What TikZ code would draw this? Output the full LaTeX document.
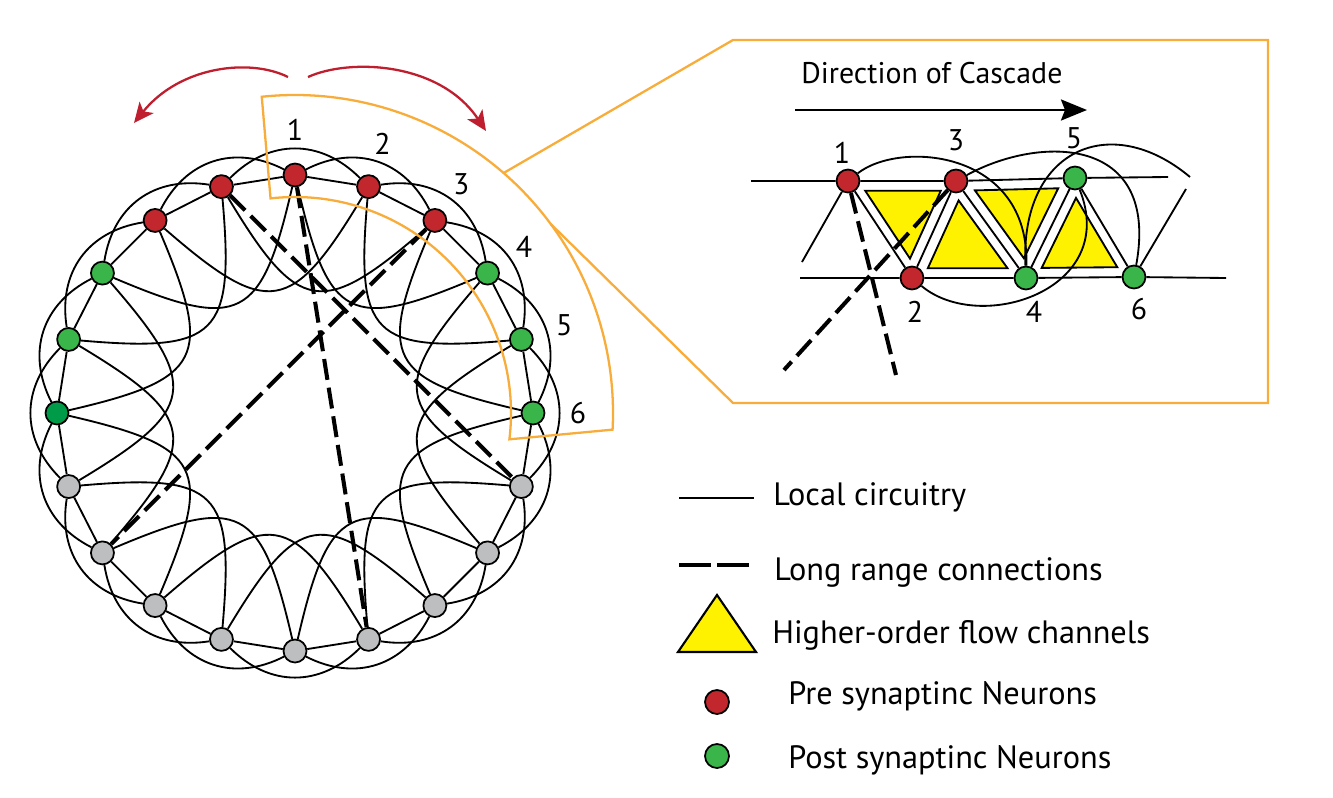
\documentclass[tikz,border=0pt]{standalone}
\usepackage{fontspec}
\setmainfont{PT Sans}
\usetikzlibrary{calc,            % calculs de coordonnées
           arrows.meta,
           positioning}
\pgfdeclarelayer{background}
\pgfsetlayers{background,main}
\definecolor{prered}{RGB}{193,39,45}
\definecolor{postgreen}{RGB}{57,181,74}
\definecolor{deepgreen}{RGB}{0,155,72}
\definecolor{idlegray}{RGB}{188,190,192}
\definecolor{zoomorange}{RGB}{248,172,58}
\definecolor{flowyellow}{RGB}{255,242,0}
\definecolor{arrowred}{RGB}{190,30,45}

\begin{document}
\begin{tikzpicture}[x=0.02cm,y=-0.02cm,
  neuron/.style={circle,draw,line width=1pt,minimum size=0.46cm,inner sep=0pt},
  local/.style={line width=1.05pt},
  arcout/.style={relative,out=45,in=135,looseness=1.1},
  arcin/.style={relative,out=-50,in=-130,looseness=1.75},
  longrange/.style={line width=2.3pt,dash pattern=on 12pt off 4.5pt},
  lbl/.style={font=\fontsize{17}{20}\selectfont,inner sep=0pt},
  key/.style={font=\fontsize{18.4}{22}\selectfont,inner sep=0pt,anchor=base west},
  zoomline/.style={draw=zoomorange,line width=1.3pt},
  swing/.style={draw=arrowred,line width=1.3pt,-{Stealth[length=0.4cm,width=0.36cm,inset=0.1cm]}}]
\useasboundingbox (0,0) rectangle (1333,798);

% anneau de neurones
\coordinate (c) at (295,413);
\foreach \k/\col in {0/prered,1/prered,2/prered,3/postgreen,4/postgreen,5/postgreen,
                     6/idlegray,7/idlegray,8/idlegray,9/idlegray,10/idlegray,11/idlegray,
                     12/idlegray,13/idlegray,14/idlegray,15/deepgreen,16/postgreen,
                     17/postgreen,18/prered,19/prered}
  \node[neuron,fill=\col] (n\k) at ($(c)+(18*\k-90:238)$) {};
\begin{pgfonlayer}{background}
\foreach \k in {0,...,19}{
  \pgfmathtruncatemacro\j{mod(\k+1,20)}
  \pgfmathtruncatemacro\m{mod(\k+2,20)}
  \pgfmathtruncatemacro\p{mod(\k+3,20)}
  \draw[local] (n\k) -- (n\j);
  \draw[local] (n\k) to[arcout] (n\m);
  \draw[local] (n\k) to[arcin] (n\p);
}
\end{pgfonlayer}
\draw[longrange] (n0) -- (n9);
\draw[longrange] (n19) -- (n6);
\draw[longrange] (n2) -- (n13);
\foreach \k in {0,...,5}{
  \pgfmathtruncatemacro\num{\k+1}
  \node[lbl] (r\num) at ($(c)+(18*\k-90:283)$) {\num};
}

% fleches rouges
\coordinate (sl) at (288,77);
\coordinate (el) at (134,123);
\coordinate (sr) at (308,77);
\coordinate (er) at (486,131);
\draw[swing] (sl) .. controls (250,58) and (180,66) .. (el);
\draw[swing] (sr) .. controls (350,58) and (440,62) .. (er);

% zoom
\coordinate (z1) at (733,40);
\coordinate (z2) at (1268,40);
\coordinate (z3) at (1268,403);
\coordinate (z4) at (733,403);
\draw[zoomline] ($(c)+(-96:318)$) arc[start angle=-96,end angle=3,radius=318]
  -- ($(c)+(7:216)$) arc[start angle=7,end angle=-96.5,radius=216] -- cycle;
\draw[zoomline] ($(c)+(-49:318)$) -- (z1) -- (z2) -- (z3) -- (z4) -- ($(c)+(-36.5:318)$);

% cascade
\node[lbl,anchor=base west] (dir) at (801,83) {Direction of Cascade};
\coordinate (as) at (795,110);
\coordinate (ae) at (1087,110);
\draw[line width=1.5pt,-{Stealth[length=0.52cm,width=0.42cm,inset=0.08cm]}] (as) -- (ae);

\node[neuron,fill=prered] (i1) at (848,181) {};
\node[neuron,fill=prered] (i2) at (912,278) {};
\node[neuron,fill=prered] (i3) at (956,181) {};
\node[neuron,fill=postgreen] (i4) at (1026,278) {};
\node[neuron,fill=postgreen] (i5) at (1075,178) {};
\node[neuron,fill=postgreen] (i6) at (1134,277) {};
\node[lbl] (c1) at (842,153) {1};
\node[lbl] (c2) at (915,312) {2};
\node[lbl] (c3) at (956,140) {3};
\node[lbl] (c4) at (1034,312) {4};
\node[lbl] (c5) at (1074,138) {5};
\node[lbl] (c6) at (1139,309) {6};

\coordinate (tl) at (751,181);
\coordinate (tr) at (1168,177);
\coordinate (bl) at (800,278);
\coordinate (br) at (1226,278);
\coordinate (dl) at (802,262);
\coordinate (dr) at (1186,189);
\coordinate (ce) at (1190,177);
\coordinate (d1) at (896,375);
\coordinate (d3) at (784,370);
\begin{pgfonlayer}{background}
\foreach \a/\b/\d in {i1/i3/i2,i3/i2/i4,i3/i5/i4,i5/i4/i6}{
  \coordinate (g) at ($1/3*(\a)+1/3*(\b)+1/3*(\d)$);
  \draw[local,fill=flowyellow] ($(g)!0.7!(\a)$) -- ($(g)!0.7!(\b)$) -- ($(g)!0.7!(\d)$) -- cycle;
}
\end{pgfonlayer}
\draw[local] (tl) -- (i1) -- (i3) -- (i5) -- (tr);
\draw[local] (bl) -- (i2) -- (i4) -- (i6) -- (br);
\draw[local] (i1) -- (i2) -- (i3) -- (i4) -- (i5) -- (i6);
\draw[local] (dl) -- (i1);
\draw[local] (i6) -- (dr);
\draw[local] (i1) .. controls (900,140) and (1030,150) .. (i4);
\draw[local] (i3) .. controls (1040,135) and (1160,135) .. (i6);
\draw[local] (i4) .. controls (1020,150) and (1110,110) .. (ce);
\draw[local] (i2) .. controls (980,335) and (1120,290) .. (i5);
\draw[longrange] (i1) -- (d1);
\draw[longrange] (i3) -- (d3);

% legende
\coordinate (la) at (679,498);
\coordinate (lb) at (754,498);
\draw[local] (la) -- (lb);
\node[key] (t1) at (773,505) {Local circuitry};
\coordinate (lc) at (679,565);
\coordinate (ld) at (751,565);
\draw[longrange,dash pattern=on 18.2pt off 3.4pt] (lc) -- (ld);
\node[key] (t2) at (774,580) {Long range connections};
\draw[line width=1.2pt,fill=flowyellow] (717,595) -- (756,652) -- (678,652) -- cycle;
\node[key] (t3) at (772,643) {Higher-order flow channels};
\node[neuron,fill=prered,minimum size=0.48cm] (k1) at (717,702) {};
\node[key] (t4) at (788,704) {Pre synaptinc Neurons};
\node[neuron,fill=postgreen,minimum size=0.48cm] (k2) at (717,756) {};
\node[key] (t5) at (788,768) {Post synaptinc Neurons};
\end{tikzpicture}
\end{document}
